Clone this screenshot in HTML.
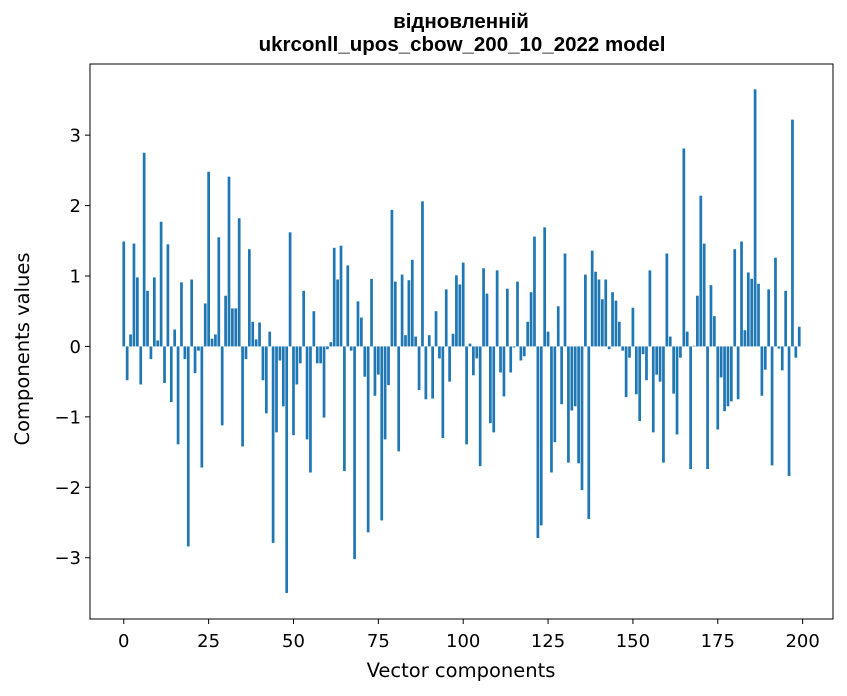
<!DOCTYPE html>
<html><head><meta charset="utf-8"><style>
body{margin:0;background:#fff;}
svg{display:block;font-family:"DejaVu Sans","Liberation Sans",sans-serif;}
.t{font-family:"Liberation Sans","DejaVu Sans",sans-serif;}
</style></head><body>
<svg id="chart" width="847" height="696" viewBox="0 0 847 696" xmlns="http://www.w3.org/2000/svg">
<rect width="847" height="696" fill="#fff"/>
<text class="t" x="461" y="28" text-anchor="middle" font-size="20.5" font-weight="bold">відновленній</text>
<text class="t" x="462" y="51" text-anchor="middle" font-size="20.5" font-weight="bold">ukrconll_upos_cbow_200_10_2022 model</text>
<g id="bars"></g>
<g id="xticks"></g>
<g id="yticks"></g>
<rect x="90" y="64" width="743" height="555" fill="none" stroke="#000" stroke-width="1"/>
<text x="461" y="677" text-anchor="middle" font-size="19.5">Vector components</text>
<text transform="translate(29,349) rotate(-90)" text-anchor="middle" font-size="19.5">Components values</text>
</svg>
<script>
const values = [1.49,-0.48,0.17,1.46,0.98,-0.54,2.75,0.79,-0.18,0.98,0.085,1.77,-0.52,1.45,-0.79,0.24,-1.39,0.91,-0.18,-2.84,0.95,-0.38,-0.06,-1.72,0.61,2.48,0.11,0.17,1.55,-1.12,0.72,2.41,0.54,0.54,1.82,-1.42,-0.18,1.38,0.35,0.10,0.34,-0.48,-0.95,0.21,-2.79,-1.22,-0.2,-0.85,-3.50,1.62,
-1.26,-0.54,-0.24,0.79,-1.32,-1.79,0.50,-0.24,-0.24,-1.01,-0.04,0.06,1.40,0.95,1.43,-1.77,1.15,-0.06,-3.02,0.64,0.41,-0.43,-2.64,0.96,-0.70,-0.40,-2.47,-1.32,-0.55,1.94,0.92,-1.49,1.02,0.16,0.94,1.23,0.14,-0.62,2.06,-0.75,0.16,-0.74,0.50,-0.17,-1.30,0.81,-0.50,0.18,1.01,0.88,
1.19,-1.39,0.04,-0.41,-0.17,-1.70,1.11,0.75,-1.09,-1.22,1.08,-0.37,-0.71,0.82,-0.37,-0.015,0.92,-0.20,-0.14,0.35,0.77,1.56,-2.72,-2.54,1.69,0.21,-1.79,-1.36,0.57,-0.82,1.32,-1.65,-0.91,-0.85,-1.66,-2.04,1.02,-2.45,1.36,1.06,0.95,0.67,0.95,-0.04,0.77,0.65,0.35,-0.06,-0.72,-0.16,
0.55,-0.68,-1.06,-0.11,-0.48,1.08,-1.22,-0.40,-0.50,-1.65,1.32,0.14,-0.67,-1.25,-0.16,2.81,0.21,-1.74,0.01,0.72,2.14,1.46,-1.74,0.87,0.43,-1.18,-0.44,-0.92,-0.85,-0.78,1.38,-0.75,1.49,0.23,1.05,0.96,3.65,0.89,-0.70,-0.33,0.81,-1.69,1.26,-0.03,-0.34,0.79,-1.84,3.22,-0.16,0.28];
const xTicks = [0,25,50,75,100,125,150,175,200];
const yTicks = [-3,-2,-1,0,1,2,3];
const xDomain = [-9.95, 208.95];
const yDomain = [-3.87, 4.01];

const L=90,R=833,T=64,B=619;
const xs = v => L + (v - xDomain[0]) / (xDomain[1]-xDomain[0]) * (R-L);
const ys = v => B - (v - yDomain[0]) / (yDomain[1]-yDomain[0]) * (B-T);
const NS="http://www.w3.org/2000/svg";
const gb=document.getElementById('bars');
values.forEach((v,i)=>{
  const r=document.createElementNS(NS,'rect');
  const x0=xs(i-0.4), x1=xs(i+0.4);
  const y0=ys(Math.max(v,0)), y1=ys(Math.min(v,0));
  r.setAttribute('x',x0);r.setAttribute('width',x1-x0);
  r.setAttribute('y',y0);r.setAttribute('height',Math.max(y1-y0,0.3));
  r.setAttribute('fill','#1f77b4');
  
  
  gb.appendChild(r);
});
const gx=document.getElementById('xticks');
xTicks.forEach(t=>{
  const x=xs(t);
  const l=document.createElementNS(NS,'line');
  l.setAttribute('x1',x);l.setAttribute('x2',x);l.setAttribute('y1',B);l.setAttribute('y2',B+5);l.setAttribute('stroke','#000');
  
  
  gx.appendChild(l);
  const tx=document.createElementNS(NS,'text');
  tx.setAttribute('x',x);tx.setAttribute('y',B+28);tx.setAttribute('text-anchor','middle');tx.setAttribute('font-size','18');
  tx.textContent=t;
  
  
  gx.appendChild(tx);
});
const gy=document.getElementById('yticks');
yTicks.forEach(t=>{
  const y=ys(t);
  const l=document.createElementNS(NS,'line');
  l.setAttribute('x1',L-5);l.setAttribute('x2',L);l.setAttribute('y1',y);l.setAttribute('y2',y);l.setAttribute('stroke','#000');
  
  
  gy.appendChild(l);
  const tx=document.createElementNS(NS,'text');
  tx.setAttribute('x',L-9);tx.setAttribute('y',y+6.5);tx.setAttribute('text-anchor','end');tx.setAttribute('font-size','18');
  tx.textContent=(t<0?'\u2212'+(-t):''+t);
  
  
  gy.appendChild(tx);
});
</script>
</body></html>
